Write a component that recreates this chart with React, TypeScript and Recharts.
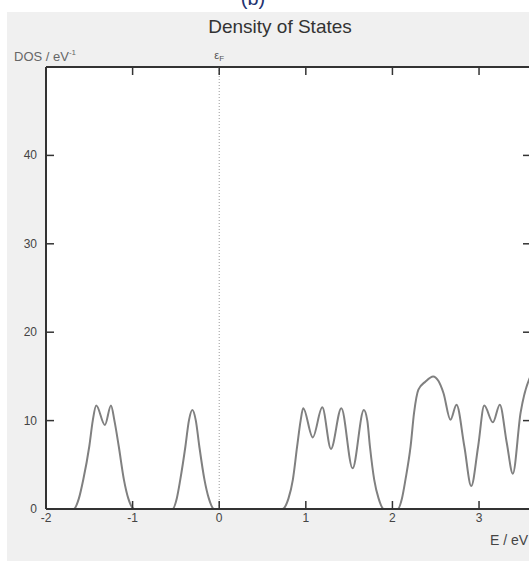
import { LineChart, Line, XAxis, YAxis, CartesianGrid, ReferenceLine } from 'recharts'

// Occupied bands below the Fermi level (energy in eV, DOS in states/eV)
const VALENCE_E = [
  -2.0, -1.68, -1.62, -1.57, -1.5, -1.46, -1.42, -1.32, -1.25, -1.21, -1.16, -1.1, -1.05, -0.98,
  -0.54, -0.49, -0.45, -0.39, -0.35, -0.31, -0.27, -0.23, -0.17, -0.12, -0.06,
]
const VALENCE_DOS = [
  0, 0, 1.2, 3.3, 7.1, 10.0, 11.7, 9.5, 11.7, 10.0, 7.1, 3.3, 1.2, 0,
  0, 1.2, 3.3, 7.1, 10.0, 11.2, 10.0, 7.1, 3.3, 1.2, 0,
]

// Empty bands above the gap
const CONDUCTION_E = [
  0.73, 0.8, 0.85, 0.9, 0.94, 0.97, 1.08, 1.19, 1.29, 1.41, 1.54, 1.67, 1.71, 1.74, 1.79, 1.84, 1.9,
  2.06, 2.11, 2.15, 2.21, 2.25, 2.3, 2.38, 2.47, 2.53, 2.59, 2.67, 2.74, 2.83, 2.91, 2.99, 3.06,
  3.16, 3.24, 3.32, 3.39, 3.48, 3.58, 3.6,
]
const CONDUCTION_DOS = [
  0, 1.2, 3.3, 7.1, 10.0, 11.4, 8.1, 11.5, 6.8, 11.4, 4.6, 11.2, 10.0, 7.1, 3.3, 1.2, 0,
  0, 1.2, 3.3, 7.1, 10.9, 13.5, 14.4, 15.0, 14.5, 13.1, 10.1, 11.8, 7.1, 2.6, 7.1, 11.7,
  9.8, 11.8, 7.5, 4.0, 10.9, 14.7, 15.1,
]

const E_TICKS = [-2, -1, 0, 1, 2, 3]
const DOS_TICKS = [0, 10, 20, 30, 40]
const E_DOMAIN: [number, number] = [-2, 3.6]
const DOS_DOMAIN: [number, number] = [0, 50]

const data = [
  ...VALENCE_E.map((e, i) => ({ e, dos: VALENCE_DOS[i] })),
  ...CONDUCTION_E.map((e, i) => ({ e, dos: CONDUCTION_DOS[i] })),
]

const FONT = "'Liberation Sans', Arial, sans-serif"
const AXIS = '#333'
const TICK_LEN = 8
const LABEL = '#444'

const CHART_W = 532
const CHART_H = 563
const MARGIN = { top: 67, right: 0, bottom: 14, left: 0 }
const X_AXIS_H = 40
const PLOT_H = CHART_H - MARGIN.top - MARGIN.bottom - X_AXIS_H

// gnuplot-style ticks: marks point into the plot, labels sit outside.
// The bottom axis also mirrors its marks onto the top border.
// eslint-disable-next-line @typescript-eslint/no-explicit-any
function BottomTick({ x, y, payload }: any) {
  const top = y - PLOT_H
  return (
    <g>
      <line x1={x} y1={y} x2={x} y2={y - TICK_LEN} stroke={AXIS} strokeWidth={1.5} />
      <line x1={x} y1={top} x2={x} y2={top + TICK_LEN} stroke={AXIS} strokeWidth={1.5} />
      <text x={x} y={y + 13} textAnchor="middle" fontSize={12} fill={LABEL} fontFamily={FONT}>
        {payload.value}
      </text>
    </g>
  )
}

// eslint-disable-next-line @typescript-eslint/no-explicit-any
function LeftTick({ x, y, payload }: any) {
  return (
    <g>
      <line x1={x} y1={y} x2={x + TICK_LEN} y2={y} stroke={AXIS} strokeWidth={1.5} />
      <text x={x - 9} y={y + 4} textAnchor="end" fontSize={12} fill={LABEL} fontFamily={FONT}>
        {payload.value}
      </text>
    </g>
  )
}

// eslint-disable-next-line @typescript-eslint/no-explicit-any
function RightTick({ x, y }: any) {
  return <line x1={x} y1={y} x2={x - TICK_LEN} y2={y} stroke={AXIS} strokeWidth={1.5} />
}

// eslint-disable-next-line @typescript-eslint/no-explicit-any
function FermiLabel({ viewBox }: any) {
  return (
    <text x={viewBox.x} y={viewBox.y - 8} textAnchor="middle" fontSize={11} fill="#555" fontFamily={FONT}>
      ε
      <tspan fontSize={8} dy={2}>
        F
      </tspan>
    </text>
  )
}

export default function App() {
  return (
    <div
      style={{
        position: 'fixed',
        left: 0,
        top: 0,
        width: 529,
        height: 563,
        overflow: 'hidden',
        background: '#fff',
      }}
    >
      <svg width={529} height={563} style={{ position: 'absolute', left: 0, top: 0, fontFamily: FONT }}>
        <rect x={7} y={12} width={530} height={549} fill="#f0f0f0" />
        <text x={253} y={5} textAnchor="middle" fontSize={20} fill="#1f3370">
          (b)
        </text>
        <text x={280} y={33} textAnchor="middle" fontSize={19} fill="#333">
          Density of States
        </text>
        <text x={14} y={61} fontSize={13} fill="#666">
          DOS / eV
          <tspan fontSize={8} dy={-6}>
            -1
          </tspan>
        </text>
        <text x={490} y={545} fontSize={14} fill={LABEL}>
          E / eV
        </text>
      </svg>
      <div style={{ position: 'absolute', left: 0, top: 0 }}>
        <LineChart width={CHART_W} height={CHART_H} data={data} margin={MARGIN}>
          <CartesianGrid horizontal={false} vertical={false} fill="#fff" />
          <XAxis
            dataKey="e"
            type="number"
            domain={E_DOMAIN}
            ticks={E_TICKS}
            interval={0}
            allowDataOverflow
            height={X_AXIS_H}
            tickSize={0}
            tickMargin={0}
            tickLine={false}
            axisLine={{ stroke: AXIS, strokeWidth: 2 }}
            tick={<BottomTick />}
          />
          <YAxis
            type="number"
            domain={DOS_DOMAIN}
            ticks={DOS_TICKS}
            interval={0}
            allowDataOverflow
            width={46}
            tickSize={0}
            tickMargin={0}
            tickLine={false}
            axisLine={{ stroke: AXIS, strokeWidth: 2 }}
            tick={<LeftTick />}
          />
          <YAxis
            yAxisId="right"
            orientation="right"
            type="number"
            domain={DOS_DOMAIN}
            ticks={DOS_TICKS}
            interval={0}
            allowDataOverflow
            width={1}
            tickSize={0}
            tickMargin={0}
            tickLine={false}
            axisLine={{ stroke: AXIS, strokeWidth: 2 }}
            tick={<RightTick />}
          />
          {/* top border of the frame */}
          <ReferenceLine y={DOS_DOMAIN[1]} stroke={AXIS} strokeWidth={2} />
          {/* Fermi level */}
          <ReferenceLine x={0} stroke="#999" strokeDasharray="1 2" label={<FermiLabel />} />
          <Line
            type="monotone"
            dataKey="dos"
            stroke="#808080"
            strokeWidth={2}
            dot={false}
            isAnimationActive={false}
          />
        </LineChart>
      </div>
    </div>
  )
}
